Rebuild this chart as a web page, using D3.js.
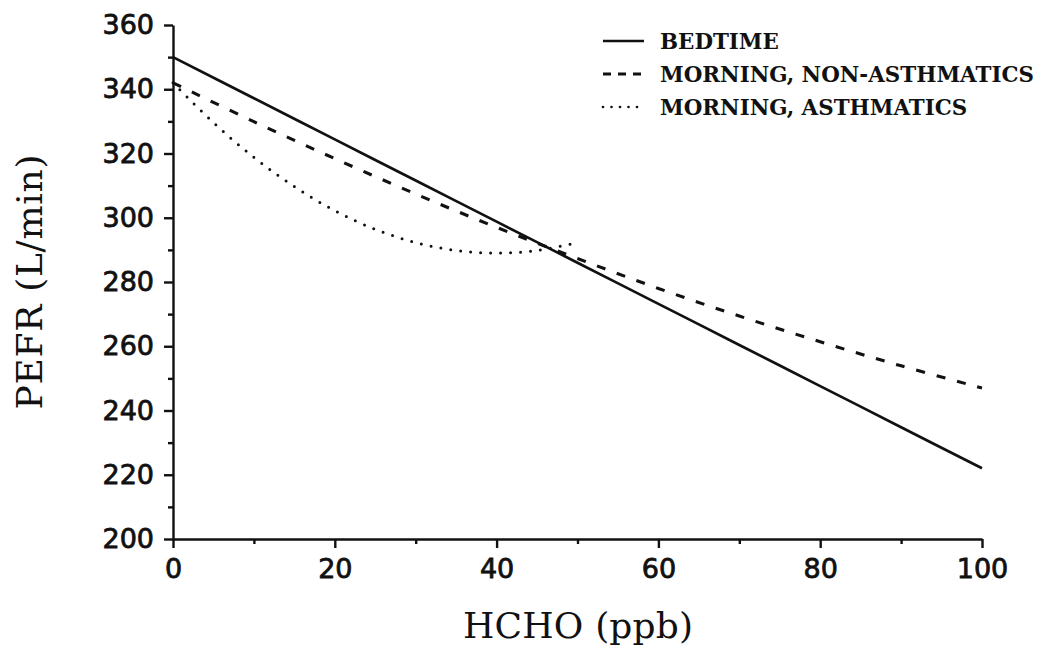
<!DOCTYPE html>
<html>
<head>
<meta charset="utf-8">
<script src="https://cdn.jsdelivr.net/npm/d3@7"></script>
<style>
  body { margin: 0; background: #fff; }
  svg { display: block; }
</style>
</head>
<body>
<svg id="chart" width="1038" height="653"></svg>
<script>
// Peak expiratory flow rate vs. formaldehyde exposure
const hchoFull = [0, 10, 20, 30, 40, 50, 60, 70, 80, 90, 100];
const bedtime = [350, 337.2, 324.4, 311.6, 298.8, 286, 273.2, 260.4, 247.6, 234.8, 222];
const morningNonAsthmatic = [342, 329.9, 318.4, 307.4, 297.0, 287.3, 278.0, 269.4, 261.4, 253.9, 247];
const hchoAsthmatic = [0, 5, 10, 15, 20, 25, 30, 35, 40, 45, 50];
const morningAsthmatic = [342, 329.6, 318.8, 309.7, 302.2, 296.4, 292.3, 289.8, 289.0, 289.8, 292.3];

const xMajor = [0, 20, 40, 60, 80, 100];
const xMinor = [10, 30, 50, 70, 90];
const yMajor = [200, 220, 240, 260, 280, 300, 320, 340, 360];
const yMinor = [210, 230, 250, 270, 290, 310, 330, 350];

const legendLabels = ["BEDTIME", "MORNING, NON-ASTHMATICS", "MORNING, ASTHMATICS"];
const xTitle = "HCHO (ppb)";
const yTitle = "PEFR (L/min)";

const svg = d3.select("#chart");
const x = d3.scaleLinear().domain([0, 100]).range([173, 982]);
const y = d3.scaleLinear().domain([200, 360]).range([539, 25]);

const styles = [
  { width: 2.7, dash: null, cap: "butt", legendDash: null },
  { width: 3.1, dash: "9 12", cap: "butt", legendDash: "8 7" },
  { width: 3.0, dash: "0 10", cap: "round", legendDash: "0 8.5" }
];

function styleAxis(g) {
  g.selectAll("path.domain").attr("stroke", "#111").attr("stroke-width", 2.4);
  g.selectAll(".tick line").attr("stroke", "#111").attr("stroke-width", 2.4);
  g.selectAll(".tick text")
    .attr("fill", "#111")
    .attr("stroke", "#111")
    .attr("stroke-width", 0.8)
    .style("font-family", "'DejaVu Sans', sans-serif")
    .style("font-size", "27px");
}

// x axis: major ticks with labels, minor ticks without
const xAxisG = svg.append("g").attr("transform", `translate(0,${y(200)})`)
  .call(d3.axisBottom(x).tickValues(xMajor).tickSize(9).tickSizeOuter(0).tickPadding(11).tickFormat(d3.format("d")));
styleAxis(xAxisG);
const xMinorG = svg.append("g").attr("transform", `translate(0,${y(200)})`)
  .call(d3.axisBottom(x).tickValues(xMinor).tickSize(5).tickSizeOuter(0).tickFormat(""));
xMinorG.select("path.domain").remove();
styleAxis(xMinorG);

// y axis
const yAxisG = svg.append("g").attr("transform", `translate(${x(0)},0)`)
  .call(d3.axisLeft(y).tickValues(yMajor).tickSize(9).tickSizeOuter(0).tickPadding(10).tickFormat(d3.format("d")));
styleAxis(yAxisG);
const yMinorG = svg.append("g").attr("transform", `translate(${x(0)},0)`)
  .call(d3.axisLeft(y).tickValues(yMinor).tickSize(5).tickSizeOuter(0).tickFormat(""));
yMinorG.select("path.domain").remove();
styleAxis(yMinorG);

// curves
const series = [
  { xs: hchoFull, ys: bedtime },
  { xs: hchoFull, ys: morningNonAsthmatic },
  { xs: hchoAsthmatic, ys: morningAsthmatic }
];
const line = d3.line()
  .x(d => x(d[0]))
  .y(d => y(d[1]))
  .curve(d3.curveCatmullRom);

series.forEach((s, i) => {
  const pts = s.xs.map((v, j) => [v, s.ys[j]]);
  svg.append("path")
    .datum(pts)
    .attr("d", line)
    .attr("fill", "none")
    .attr("stroke", "#111")
    .attr("stroke-width", styles[i].width)
    .attr("stroke-linecap", styles[i].cap)
    .attr("stroke-dasharray", styles[i].dash);
});

// legend
const legendRows = [41, 74, 107];
legendLabels.forEach((lbl, i) => {
  const g = svg.append("g").attr("transform", `translate(0,${legendRows[i]})`);
  g.append("line")
    .attr("x1", 603).attr("x2", 644).attr("y1", 0).attr("y2", 0)
    .attr("stroke", "#111")
    .attr("stroke-width", styles[i].width - 0.3)
    .attr("stroke-linecap", styles[i].cap)
    .attr("stroke-dasharray", styles[i].legendDash);
  g.append("text")
    .attr("x", 660).attr("y", 8)
    .attr("fill", "#111")
    .style("font-family", "'DejaVu Serif', serif")
    .style("font-weight", "bold")
    .style("font-size", "21.4px")
    .text(lbl);
});

// axis titles
svg.append("text")
  .attr("x", 578).attr("y", 638)
  .attr("text-anchor", "middle")
  .attr("fill", "#111")
  .attr("textLength", 230)
  .style("font-family", "'DejaVu Serif', serif")
  .style("font-size", "36px")
  .text(xTitle);

svg.append("text")
  .attr("transform", "translate(42,282) rotate(-90)")
  .attr("text-anchor", "middle")
  .attr("fill", "#111")
  .attr("textLength", 255)
  .style("font-family", "'DejaVu Serif', serif")
  .style("font-size", "36px")
  .text(yTitle);
</script>
</body>
</html>
